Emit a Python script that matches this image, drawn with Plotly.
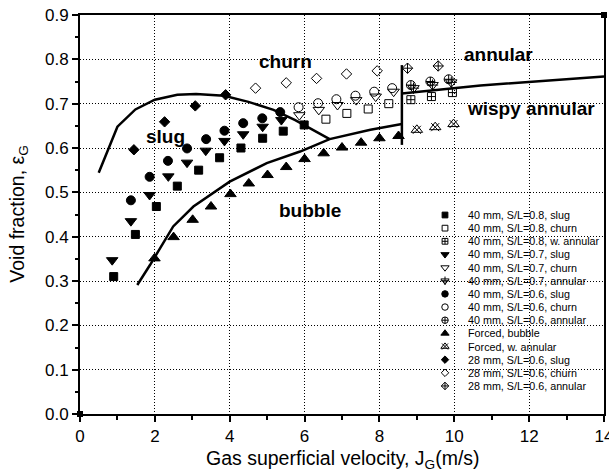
import plotly.graph_objects as go

# ---------------- data ----------------
sq08_slug_x = [0.90, 1.48, 2.04, 2.60, 3.17, 3.73, 4.30, 4.88, 5.43, 5.99]
sq08_slug_y = [0.310, 0.405, 0.468, 0.514, 0.550, 0.578, 0.600, 0.622, 0.638, 0.652]
sq08_churn_x = [6.57, 7.13, 7.70, 8.25]
sq08_churn_y = [0.665, 0.678, 0.688, 0.700]
sq08_wann_x = [8.84, 9.39, 9.95]
sq08_wann_y = [0.709, 0.716, 0.725]

tri07_slug_x = [0.86, 1.36, 1.86, 2.36, 2.86, 3.36, 3.86, 4.36, 4.88, 5.38]
tri07_slug_y = [0.347, 0.435, 0.494, 0.536, 0.567, 0.594, 0.616, 0.631, 0.648, 0.663]
tri07_churn_x = [5.86, 6.38, 6.88, 7.38, 7.90, 8.38]
tri07_churn_y = [0.674, 0.686, 0.697, 0.708, 0.716, 0.727]
tri07_ann_x = [8.91, 9.42, 9.92]
tri07_ann_y = [0.735, 0.742, 0.748]

c06_slug_x = [1.36, 1.86, 2.35, 2.86, 3.37, 3.86, 4.36, 4.87, 5.35]
c06_slug_y = [0.482, 0.535, 0.571, 0.599, 0.620, 0.639, 0.656, 0.667, 0.681]
c06_churn_x = [5.84, 6.36, 6.85, 7.36, 7.86, 8.34]
c06_churn_y = [0.692, 0.701, 0.710, 0.718, 0.727, 0.735]
c06_ann_x = [8.84, 9.36, 9.85]
c06_ann_y = [0.742, 0.750, 0.755]

forced_bub_x = [1.99, 2.50, 3.01, 3.50, 4.02, 4.51, 5.01, 5.51, 6.00, 6.51, 7.00, 7.51, 8.00, 8.51]
forced_bub_y = [0.351, 0.399, 0.438, 0.468, 0.496, 0.520, 0.539, 0.557, 0.575, 0.588, 0.601, 0.612, 0.622, 0.627]
forced_wann_x = [9.00, 9.49, 9.98]
forced_wann_y = [0.641, 0.647, 0.654]

d28_slug_x = [1.44, 2.26, 3.08, 3.89]
d28_slug_y = [0.596, 0.659, 0.695, 0.720]
d28_churn_x = [4.69, 5.51, 6.32, 7.12, 7.94]
d28_churn_y = [0.735, 0.747, 0.757, 0.767, 0.774]
d28_ann_x = [8.75, 9.57]
d28_ann_y = [0.780, 0.785]

# regime boundaries
slug_churn_x = [0.50, 1.00, 1.48, 2.00, 2.60, 3.10, 3.85, 4.50, 5.17, 5.75, 6.67]
slug_churn_y = [0.544, 0.648, 0.687, 0.709, 0.720, 0.722, 0.718, 0.704, 0.686, 0.663, 0.620]
bubble_x = [1.53, 1.87, 2.49, 3.03, 4.00, 4.99, 5.88, 6.67, 7.76, 8.60]
bubble_y = [0.291, 0.336, 0.423, 0.468, 0.524, 0.566, 0.592, 0.620, 0.641, 0.654]
annular_x = [8.60, 10.70, 14.00]
annular_y = [0.723, 0.741, 0.761]
vert_x = [8.60, 8.60]
vert_y = [0.607, 0.787]

corner_x = [0, 14]
corner_y = [0.0, 0.9]

region_labels = ["churn", "slug", "bubble", "annular", "wispy annular"]
region_x = [5.50, 2.28, 6.15, 11.18, 12.05]
region_y = [0.795, 0.627, 0.460, 0.810, 0.690]

x_ticks = [0, 2, 4, 6, 8, 10, 12, 14]
y_ticks = [0.0, 0.1, 0.2, 0.3, 0.4, 0.5, 0.6, 0.7, 0.8, 0.9]

# series: (label, x, y, symbol, overlay symbol)
series = [
    ("40 mm, S/L=0.8, slug", sq08_slug_x, sq08_slug_y, "square", None),
    ("40 mm, S/L=0.8, churn", sq08_churn_x, sq08_churn_y, "square-open", None),
    ("40 mm, S/L=0.8, w. annular", sq08_wann_x, sq08_wann_y, "square-cross-open", None),
    ("40 mm, S/L=0.7, slug", tri07_slug_x, tri07_slug_y, "triangle-down", None),
    ("40 mm, S/L=0.7, churn", tri07_churn_x, tri07_churn_y, "triangle-down-open", None),
    ("40 mm, S/L=0.7, annular", tri07_ann_x, tri07_ann_y, "triangle-down-open", "cross-thin-open"),
    ("40 mm, S/L=0.6, slug", c06_slug_x, c06_slug_y, "circle", None),
    ("40 mm, S/L=0.6, churn", c06_churn_x, c06_churn_y, "circle-open", None),
    ("40 mm, S/L=0.6, annular", c06_ann_x, c06_ann_y, "circle-cross-open", None),
    ("Forced, bubble", forced_bub_x, forced_bub_y, "triangle-up", None),
    ("Forced, w. annular", forced_wann_x, forced_wann_y, "triangle-up-open", "x-thin-open"),
    ("28 mm, S/L=0.6, slug", d28_slug_x, d28_slug_y, "diamond", None),
    ("28 mm, S/L=0.6, churn", d28_churn_x, d28_churn_y, "diamond-open", None),
    ("28 mm, S/L=0.6, annular", d28_ann_x, d28_ann_y, "diamond-cross-open", None),
]

size_for = {"square": 8, "circle": 9, "triangle": 10, "diamond": 8}


def msize(sym, scale=1.0):
    for k, v in size_for.items():
        if sym.startswith(k):
            return v * scale
    return 8 * scale


FONT = "Liberation Sans, Arial, sans-serif"
fig = go.Figure()

# boundaries
for bx, by in [(slug_churn_x, slug_churn_y), (bubble_x, bubble_y),
               (annular_x, annular_y), (vert_x, vert_y)]:
    fig.add_trace(go.Scatter(x=bx, y=by, mode="lines", line=dict(color="black", width=2.5),
                             showlegend=False, hoverinfo="skip"))

# data series
for name, sx, sy, sym, over in series:
    fig.add_trace(go.Scatter(x=sx, y=sy, mode="markers", name=name, showlegend=False,
                             marker=dict(symbol=sym, size=msize(sym), color="black",
                                         line=dict(color="black", width=1))))
    if over:
        fig.add_trace(go.Scatter(x=sx, y=sy, mode="markers", showlegend=False, hoverinfo="skip",
                                 marker=dict(symbol=over, size=8, color="black",
                                             line=dict(color="black", width=1))))

fig.add_trace(go.Scatter(x=corner_x, y=corner_y, mode="markers", showlegend=False,
                         cliponaxis=False, hoverinfo="skip",
                         marker=dict(symbol="square", size=6, color="black")))

# manual compact legend on a pixel-scaled overlay axis (page pixels)
L_MX, L_TX, L_Y0, L_DY = 445, 466, 215, 13.15
leg_y = [L_Y0 + i * L_DY for i in range(len(series))]
for i, (name, sx, sy, sym, over) in enumerate(series):
    fig.add_trace(go.Scatter(x=[L_MX], y=[leg_y[i]], xaxis="x2", yaxis="y2", mode="markers",
                             showlegend=False, hoverinfo="skip",
                             marker=dict(symbol=sym, size=msize(sym, 0.72), color="black",
                                         line=dict(color="black", width=1))))
    if over:
        fig.add_trace(go.Scatter(x=[L_MX], y=[leg_y[i]], xaxis="x2", yaxis="y2", mode="markers",
                                 showlegend=False, hoverinfo="skip",
                                 marker=dict(symbol=over, size=6, color="black",
                                             line=dict(color="black", width=1))))
    fig.add_annotation(x=L_TX, y=leg_y[i], xref="x2", yref="y2", text=name, showarrow=False,
                       xanchor="left", yanchor="middle",
                       font=dict(family=FONT, size=10.75, color="black"))

for t, x, y in zip(region_labels, region_x, region_y):
    fig.add_annotation(x=x, y=y, text=f"<b>{t}</b>", showarrow=False,
                       font=dict(family=FONT, size=19, color="black"))

# axis titles
fig.add_annotation(x=0.502, y=-0.113, xref="paper", yref="paper", showarrow=False,
                   xanchor="center", yanchor="middle",
                   text="Gas superficial velocity, J<sub>G</sub>(m/s)",
                   font=dict(family=FONT, size=19.5, color="black"))
fig.add_annotation(x=-0.118, y=0.5, xref="paper", yref="paper", showarrow=False,
                   xanchor="center", yanchor="middle", textangle=-90,
                   text="Void fraction, ε<sub>G</sub>",
                   font=dict(family=FONT, size=19.5, color="black"))

axis_common = dict(showline=True, linecolor="black", linewidth=2, mirror=True,
                   ticks="outside", ticklen=6, tickwidth=1.5, tickcolor="black",
                   showgrid=True, gridcolor="black", gridwidth=1, griddash="1px,2px",
                   zeroline=False, automargin=False, ticklabeloverflow="allow",
                   tickfont=dict(family=FONT, size=17, color="black"))

fig.update_layout(
    width=609, height=474,
    margin=dict(l=80, r=5, t=15, b=60),
    paper_bgcolor="white", plot_bgcolor="white",
    font=dict(family=FONT, color="black"),
    xaxis=dict(range=[0, 14], tickvals=x_ticks, ticktext=[str(v) for v in x_ticks],
               minor=dict(ticks="outside", ticklen=3.5, tickwidth=1.5, tickcolor="black",
                          dtick=1, showgrid=False),
               **axis_common),
    yaxis=dict(range=[0, 0.9], tickvals=y_ticks, ticktext=[f"{v:.1f}" for v in y_ticks],
               minor=dict(ticks="outside", ticklen=3.5, tickwidth=1.5, tickcolor="black",
                          dtick=0.05, showgrid=False),
               **axis_common),
    xaxis2=dict(overlaying="x", range=[80, 604], visible=False, fixedrange=True),
    yaxis2=dict(overlaying="y", range=[414, 15], visible=False, fixedrange=True),
    showlegend=False,
)

fig.write_html("out.html", config={"displayModeBar": False},
               post_script="document.body.style.margin='0';document.body.style.overflow='hidden';")
